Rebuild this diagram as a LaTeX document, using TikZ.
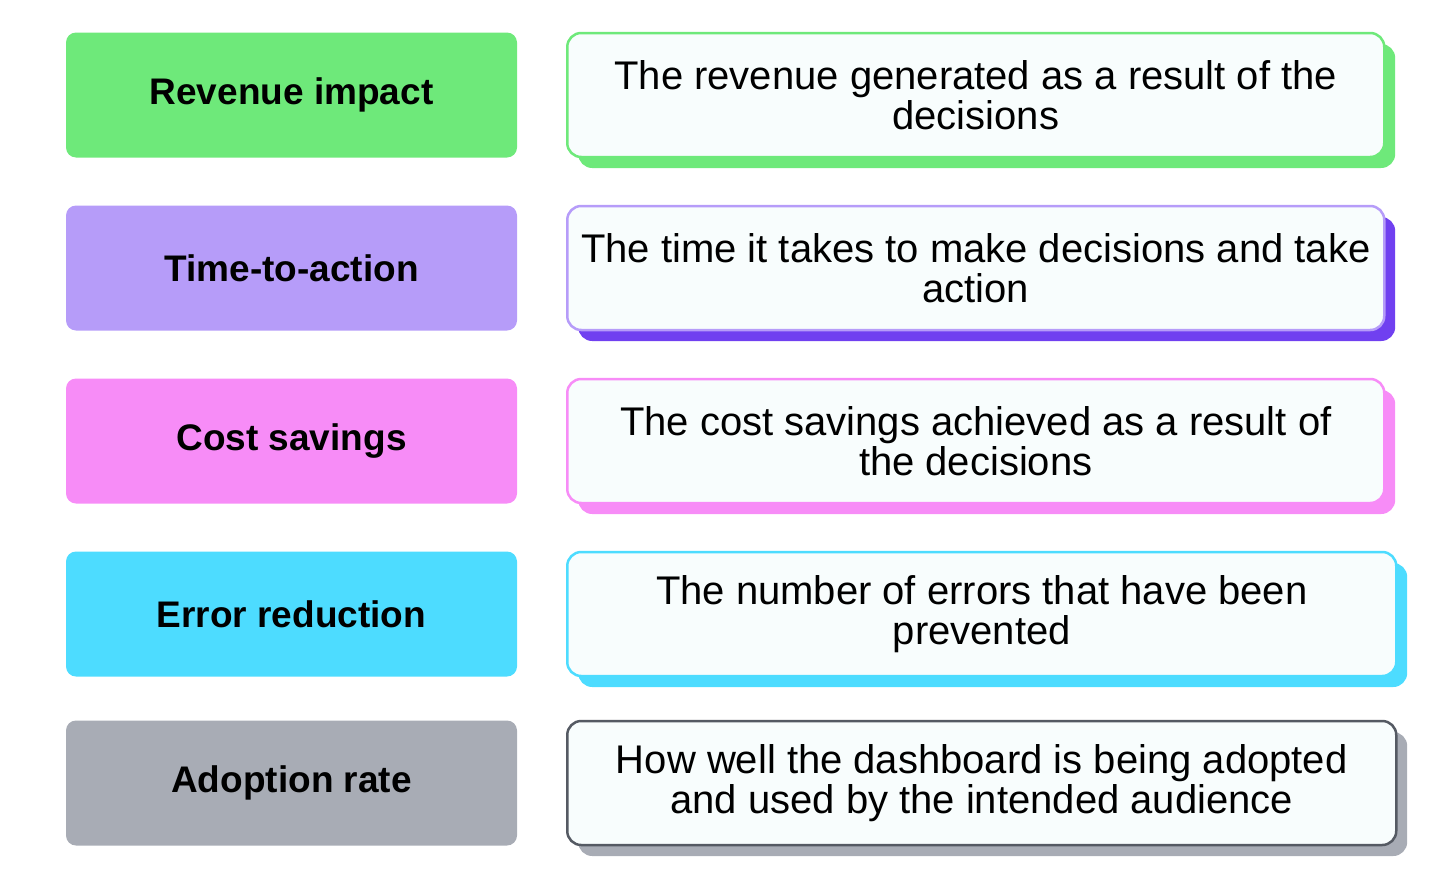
\documentclass[tikz,border=0pt]{standalone}
\usepackage{fontspec}
\setmainfont{Liberation Sans}
\definecolor{cgreen}{HTML}{6EE97A}
\definecolor{cpurple}{HTML}{B69CF9}
\definecolor{cpurpled}{HTML}{7040F0}
\definecolor{cpink}{HTML}{F78CF7}
\definecolor{ccyan}{HTML}{4DDCFF}
\definecolor{cgray}{HTML}{A8ACB5}
\definecolor{cgrayd}{HTML}{555A63}
\definecolor{cpaper}{HTML}{F8FDFD}
\tikzset{
  labelbox/.style={rounded corners=10pt,minimum width=451pt,minimum height=125pt,
    inner sep=0pt,font=\fontsize{37}{40}\selectfont\bfseries},
  descbox/.style={rounded corners=14pt,fill=cpaper,line width=2.5pt,minimum height=124pt,
    inner sep=0pt,align=center,font=\fontsize{40}{40}\selectfont},
  shadowbox/.style={rounded corners=14pt,minimum height=124pt,inner sep=0pt}
}
\begin{document}
\begin{tikzpicture}[x=1pt,y=-1pt]
  \useasboundingbox (0,0) rectangle (1436,889);
  % rows: y-centre / fill / shadow / border / width / label / text
  \foreach \i/\y/\fc/\sc/\bc/\w/\lab/\txt in {
    1/95/cgreen/cgreen/cgreen/817/Revenue impact/{The revenue generated as a result of the\\decisions},
    2/268/cpurple/cpurpled/cpurple/817/Time-to-action/{The time it takes to make decisions and take\\action},
    3/441/cpink/cpink/cpink/817/Cost savings/{The cost savings achieved as a result of\\the decisions},
    4/614/ccyan/ccyan/ccyan/829/Error reduction/{The number of errors that have been\\prevented},
    5/783/cgray/cgray/cgrayd/829/Adoption rate/{How well the dashboard is being adopted\\and used by the intended audience}}{
    \node[labelbox,fill=\fc] (lab\i) at (291.5,\y) {\lab};
    \node[shadowbox,fill=\sc,minimum width=\w pt,anchor=west] (shd\i) at (578,\y+11) {};
    \node[descbox,draw=\bc,minimum width=\w pt,anchor=west] (desc\i) at (566,\y) {\txt};
  }
\end{tikzpicture}
\end{document}
